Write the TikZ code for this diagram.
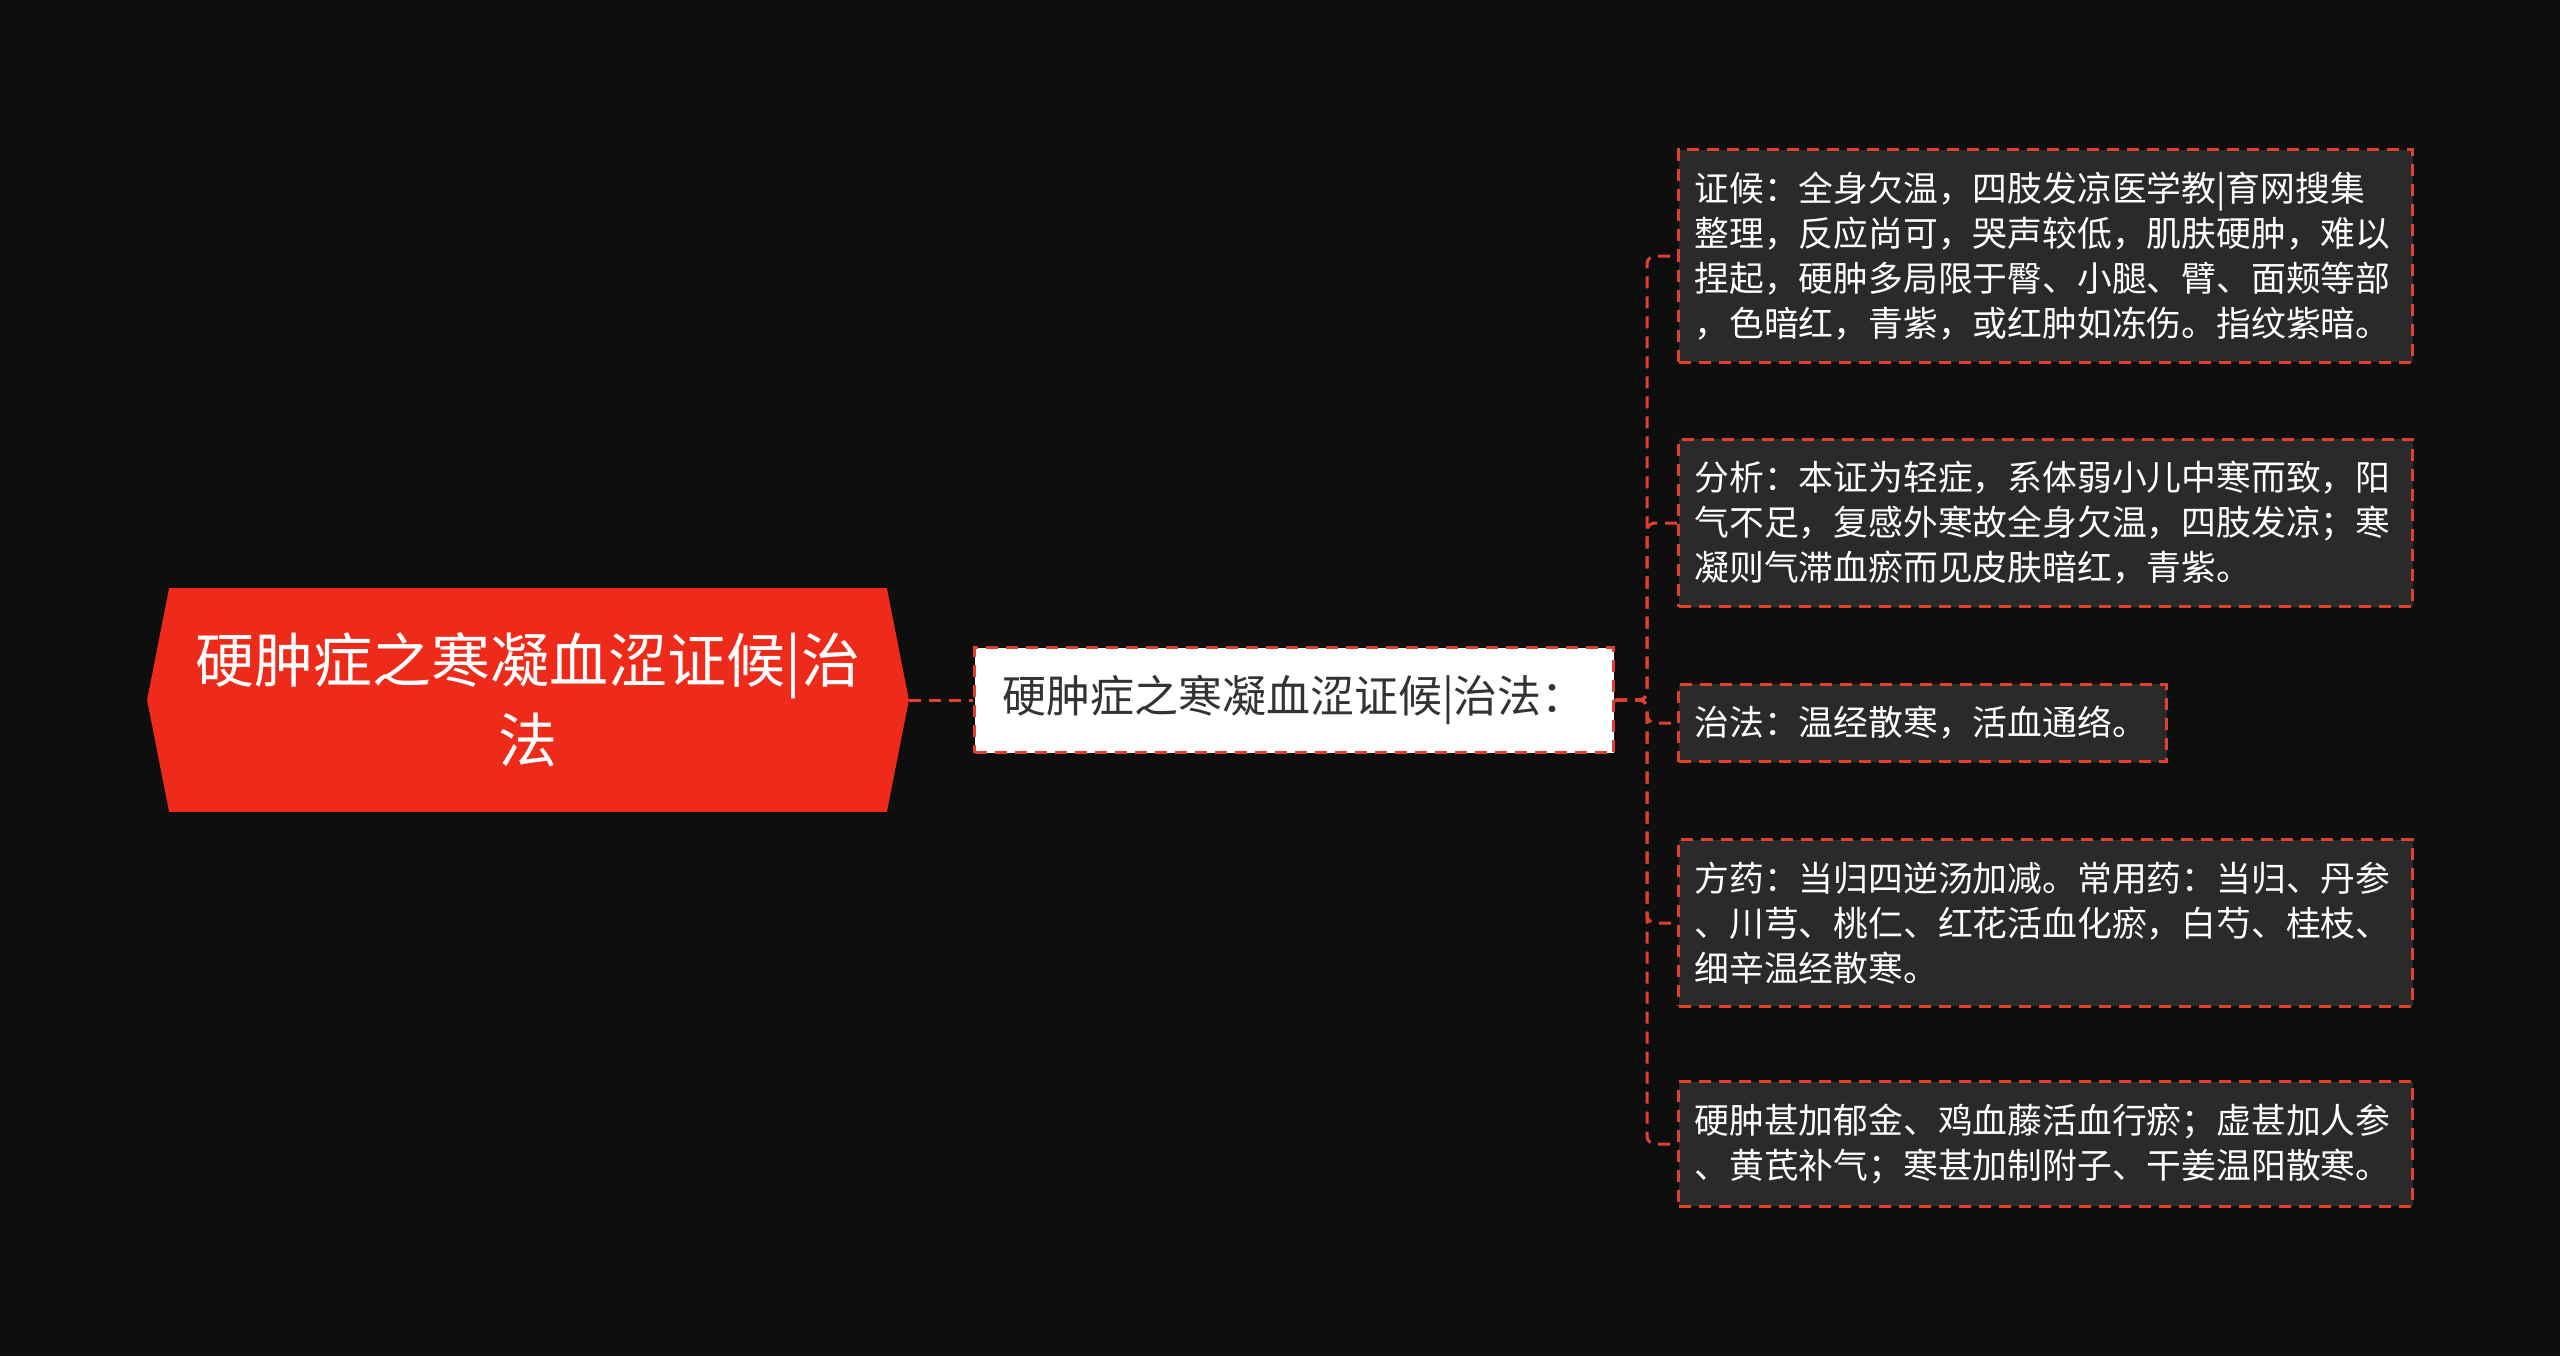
\documentclass[tikz,border=0pt]{standalone}
\usepackage{fontspec}
\setmainfont{Noto Sans CJK SC}
\usetikzlibrary{backgrounds}
\definecolor{bgblack}{HTML}{0E0E0E}
\definecolor{rootred}{HTML}{EE2B1A}
\definecolor{linkred}{HTML}{E0402E}
\definecolor{leafgray}{HTML}{2A2A2A}
\definecolor{midtext}{HTML}{333333}
\tikzset{
  rootbox/.style={text=white, align=center, minimum width=358.5pt, minimum height=111.5pt,
    font=\fontsize{29.5pt}{40pt}\selectfont},
  midbox/.style={draw=linkred, line width=1.5pt, dash pattern=on 6pt off 4pt, fill=white,
    text=midtext, anchor=west, minimum width=319.5pt, minimum height=52.5pt,
    font=\fontsize{22pt}{26pt}\selectfont},
  leaf/.style={draw=linkred, line width=1.5pt, dash pattern=on 6pt off 4pt, fill=leafgray,
    text=white, anchor=west, align=left, text width=351pt, inner xsep=8pt, inner ysep=11pt,
    font=\fontsize{17.4pt}{22.5pt}\selectfont},
  link/.style={draw=linkred, line width=1.5pt, dash pattern=on 6pt off 4pt, rounded corners=4pt},
}
\begin{document}
\begin{tikzpicture}[x=0.5pt, y=-0.5pt]
        \useasboundingbox (0,0) rectangle (2560,1356);
        \node[rootbox] (root) at (528,700) {硬肿症之寒凝血涩证候|治\\法};
        \node[midbox] (mid) at (973,700) {硬肿症之寒凝血涩证候|治法：};
        \node[leaf] (l1) at (1677,256) {证候：全身欠温，四肢发凉医学教|育网搜集\\整理，反应尚可，哭声较低，肌肤硬肿，难以\\捏起，硬肿多局限于臀、小腿、臂、面颊等部\\，色暗红，青紫，或红肿如冻伤。指纹紫暗。};
        \node[leaf] (l2) at (1677,523) {分析：本证为轻症，系体弱小儿中寒而致，阳\\气不足，复感外寒故全身欠温，四肢发凉；寒\\凝则气滞血瘀而见皮肤暗红，青紫。};
        \node[leaf, text width=228pt] (l3) at (1677,723) {治法：温经散寒，活血通络。};
        \node[leaf] (l4) at (1677,923) {方药：当归四逆汤加减。常用药：当归、丹参\\、川芎、桃仁、红花活血化瘀，白芍、桂枝、\\细辛温经散寒。};
        \node[leaf] (l5) at (1677,1144) {硬肿甚加郁金、鸡血藤活血行瘀；虚甚加人参\\、黄芪补气；寒甚加制附子、干姜温阳散寒。};

        %background and root shape
        \begin{scope}[on background layer]
            \fill[bgblack] (0,0) rectangle (2560,1356);
            \fill[rootred] (root.north west) -- (root.north east) -- ([xshift=11pt]root.east)
                -- (root.south east) -- (root.south west) -- ([xshift=-11pt]root.west) -- cycle;
        \end{scope}

        %links
        \draw[link] ([xshift=11pt]root.east) -- (mid.west);
        \foreach \leafname in {l1,l2,l3,l4,l5}
            \draw[link] (mid.east) -- ++(32,0) |- (\leafname.west);
\end{tikzpicture}
\end{document}
